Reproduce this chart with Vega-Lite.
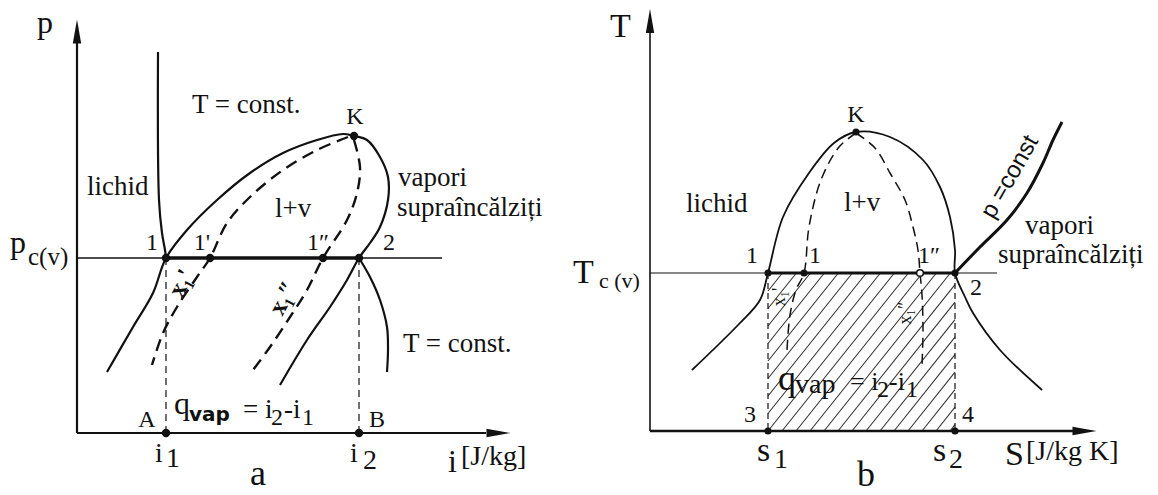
{
  "$schema": "https://vega.github.io/schema/vega-lite/v6.json",
  "padding": 0,
  "spacing": 0,
  "bounds": "flush",
  "background": "white",
  "config": {
    "view": {"stroke": null},
    "text": {"font": "Liberation Serif", "color": "#111"},
    "line": {"color": "#111"},
    "rule": {"color": "#111"},
    "point": {"color": "#111", "opacity": 1}
  },
  "resolve": {"scale": {"x": "independent", "y": "independent", "shape": "independent"}},
  "datasets": {
    "aSolid": [
      {"curve": "izoterma lichid", "ord": 1, "i": 8.1, "p": 38.1},
      {"curve": "izoterma lichid", "ord": 2, "i": 8.2, "p": 23.3},
      {"curve": "izoterma lichid", "ord": 3, "i": 8.5, "p": 20.0},
      {"curve": "izoterma lichid", "ord": 4, "i": 8.8, "p": 18.3},
      {"curve": "izoterma lichid", "ord": 5, "i": 8.9, "p": 17.5},
      {"curve": "saturatie", "ord": 1, "i": 3.0, "p": 6.1},
      {"curve": "saturatie", "ord": 2, "i": 5.6, "p": 10.6},
      {"curve": "saturatie", "ord": 3, "i": 7.6, "p": 14.0},
      {"curve": "saturatie", "ord": 4, "i": 8.9, "p": 17.5},
      {"curve": "saturatie", "ord": 5, "i": 11.0, "p": 20.3},
      {"curve": "saturatie", "ord": 6, "i": 14.0, "p": 23.3},
      {"curve": "saturatie", "ord": 7, "i": 17.3, "p": 26.0},
      {"curve": "saturatie", "ord": 8, "i": 20.6, "p": 28.0},
      {"curve": "saturatie", "ord": 9, "i": 24.0, "p": 29.3},
      {"curve": "saturatie", "ord": 10, "i": 26.6, "p": 29.9},
      {"curve": "saturatie", "ord": 11, "i": 27.7, "p": 29.7},
      {"curve": "saturatie", "ord": 12, "i": 29.0, "p": 29.3},
      {"curve": "saturatie", "ord": 13, "i": 30.3, "p": 27.6},
      {"curve": "saturatie", "ord": 14, "i": 31.1, "p": 25.6},
      {"curve": "saturatie", "ord": 15, "i": 31.1, "p": 23.3},
      {"curve": "saturatie", "ord": 16, "i": 30.3, "p": 20.6},
      {"curve": "saturatie", "ord": 17, "i": 29.3, "p": 19.0},
      {"curve": "saturatie", "ord": 18, "i": 28.2, "p": 17.5},
      {"curve": "saturatie", "ord": 19, "i": 27.0, "p": 15.3},
      {"curve": "saturatie", "ord": 20, "i": 25.3, "p": 12.6},
      {"curve": "saturatie", "ord": 21, "i": 23.0, "p": 9.3},
      {"curve": "saturatie", "ord": 22, "i": 20.3, "p": 4.8},
      {"curve": "izoterma vapori", "ord": 1, "i": 28.2, "p": 17.5},
      {"curve": "izoterma vapori", "ord": 2, "i": 29.3, "p": 15.6},
      {"curve": "izoterma vapori", "ord": 3, "i": 30.3, "p": 13.3},
      {"curve": "izoterma vapori", "ord": 4, "i": 31.0, "p": 10.6},
      {"curve": "izoterma vapori", "ord": 5, "i": 31.1, "p": 8.3},
      {"curve": "izoterma vapori", "ord": 6, "i": 31.0, "p": 6.1}
    ],
    "aDashed": [
      {"curve": "x1'", "ord": 1, "i": 27.1, "p": 29.6},
      {"curve": "x1'", "ord": 2, "i": 24.0, "p": 28.3},
      {"curve": "x1'", "ord": 3, "i": 20.6, "p": 26.3},
      {"curve": "x1'", "ord": 4, "i": 17.3, "p": 23.6},
      {"curve": "x1'", "ord": 5, "i": 15.0, "p": 21.0},
      {"curve": "x1'", "ord": 6, "i": 13.3, "p": 17.5},
      {"curve": "x1'", "ord": 7, "i": 12.0, "p": 15.6},
      {"curve": "x1'", "ord": 8, "i": 10.0, "p": 12.6},
      {"curve": "x1'", "ord": 9, "i": 8.6, "p": 10.0},
      {"curve": "x1'", "ord": 10, "i": 7.5, "p": 6.8},
      {"curve": "x1''", "ord": 1, "i": 27.7, "p": 29.3},
      {"curve": "x1''", "ord": 2, "i": 28.3, "p": 26.6},
      {"curve": "x1''", "ord": 3, "i": 28.0, "p": 24.0},
      {"curve": "x1''", "ord": 4, "i": 27.0, "p": 21.3},
      {"curve": "x1''", "ord": 5, "i": 24.6, "p": 17.5},
      {"curve": "x1''", "ord": 6, "i": 23.0, "p": 14.3},
      {"curve": "x1''", "ord": 7, "i": 21.3, "p": 11.6},
      {"curve": "x1''", "ord": 8, "i": 19.3, "p": 8.6},
      {"curve": "x1''", "ord": 9, "i": 17.6, "p": 6.3}
    ],
    "aAxes": [
      {"i": 0, "p": 0, "i2": 0, "p2": 40},
      {"i": 0, "p": 0, "i2": 40.9, "p2": 0}
    ],
    "aLevel": [{"i": 0, "p": 17.5, "i2": 36.5, "p2": 17.5}],
    "aLevelHeavy": [{"i": 8.9, "p": 17.5, "i2": 28.2, "p2": 17.5}],
    "aDrops": [
      {"i": 8.9, "p": 17.5, "i2": 8.9, "p2": 0},
      {"i": 28.2, "p": 17.5, "i2": 28.2, "p2": 0}
    ],
    "aPoints": [
      {"name": "1", "i": 8.9, "p": 17.5},
      {"name": "1'", "i": 13.3, "p": 17.5},
      {"name": "1''", "i": 24.6, "p": 17.5},
      {"name": "2", "i": 28.2, "p": 17.5},
      {"name": "K", "i": 27.7, "p": 29.7},
      {"name": "i1", "i": 8.9, "p": 0},
      {"name": "i2", "i": 28.2, "p": 0}
    ],
    "aArrows": [
      {"dir": "up", "i": 0, "p": 40.15},
      {"dir": "right", "i": 42.15, "p": 0}
    ],
    "aBig": [
      {"label": "p", "i": -4.0, "p": 40.0},
      {"label": "p", "i": -6.7, "p": 18.0},
      {"label": "i", "i": 37.1, "p": -3.9}
    ],
    "aSub": [{"label": "c(v)", "i": -4.9, "p": 16.85}],
    "aRegion": [
      {"label": "lichid", "i": 1.0, "p": 23.8},
      {"label": "T = const.", "i": 11.5, "p": 32.0},
      {"label": "l+v", "i": 19.8, "p": 21.6},
      {"label": "vapori", "i": 32.1, "p": 24.7},
      {"label": "supraîncălziți", "i": 32.0, "p": 21.7},
      {"label": "T = const.", "i": 32.6, "p": 8.1}
    ],
    "aPointLabels": [
      {"label": "1", "i": 7.5, "p": 18.3},
      {"label": "1'", "i": 12.5, "p": 18.3},
      {"label": "1″", "i": 24.1, "p": 18.3},
      {"label": "2", "i": 31.2, "p": 18.3},
      {"label": "K", "i": 27.8, "p": 30.9},
      {"label": "A", "i": 7.0, "p": 0.6},
      {"label": "B", "i": 30.0, "p": 0.6}
    ],
    "aQuality": [
      {"label": "x₁'", "i": 10.4, "p": 15.0},
      {"label": "x₁″", "i": 20.6, "p": 13.5}
    ],
    "aTick": [
      {"label": "i", "i": 7.8, "p": -2.9},
      {"label": "1", "i": 8.9, "p": -3.4},
      {"label": "i", "i": 27.3, "p": -2.9},
      {"label": "2", "i": 28.6, "p": -3.6},
      {"label": "[J/kg]", "i": 38.4, "p": -3.2}
    ],
    "aQ": [{"label": "q", "i": 9.7, "p": 1.9}],
    "aVap": [{"label": "vap", "i": 11.2, "p": 1.2}],
    "aEq": [
      {"label": "= i", "i": 16.6, "p": 1.5},
      {"label": "-i", "i": 20.7, "p": 1.5}
    ],
    "aEqSub": [
      {"label": "2", "i": 19.4, "p": 0.8},
      {"label": "1", "i": 22.5, "p": 0.8}
    ],
    "aLetter": [{"label": "a", "i": 18.1, "p": -5.2}],

    "bSolid": [
      {"curve": "saturatie", "ord": 1, "s": 4.2, "T": 6.1},
      {"curve": "saturatie", "ord": 2, "s": 8.9, "T": 10.7},
      {"curve": "saturatie", "ord": 3, "s": 11.0, "T": 13.1},
      {"curve": "saturatie", "ord": 4, "s": 11.8, "T": 15.8},
      {"curve": "saturatie", "ord": 5, "s": 13.3, "T": 21.4},
      {"curve": "saturatie", "ord": 6, "s": 15.9, "T": 25.8},
      {"curve": "saturatie", "ord": 7, "s": 18.4, "T": 28.8},
      {"curve": "saturatie", "ord": 8, "s": 20.6, "T": 29.9},
      {"curve": "saturatie", "ord": 9, "s": 24.0, "T": 29.4},
      {"curve": "saturatie", "ord": 10, "s": 27.3, "T": 27.1},
      {"curve": "saturatie", "ord": 11, "s": 29.0, "T": 24.4},
      {"curve": "saturatie", "ord": 12, "s": 30.0, "T": 21.4},
      {"curve": "saturatie", "ord": 13, "s": 30.5, "T": 18.1},
      {"curve": "saturatie", "ord": 14, "s": 30.5, "T": 15.8},
      {"curve": "saturatie", "ord": 15, "s": 31.5, "T": 13.4},
      {"curve": "saturatie", "ord": 16, "s": 32.3, "T": 11.8},
      {"curve": "saturatie", "ord": 17, "s": 35.0, "T": 8.1},
      {"curve": "saturatie", "ord": 18, "s": 39.2, "T": 4.1}
    ],
    "bIsobar": [
      {"curve": "p = const", "ord": 1, "s": 30.5, "T": 15.8},
      {"curve": "p = const", "ord": 2, "s": 33.0, "T": 18.4},
      {"curve": "p = const", "ord": 3, "s": 35.7, "T": 21.1},
      {"curve": "p = const", "ord": 4, "s": 37.7, "T": 23.8},
      {"curve": "p = const", "ord": 5, "s": 39.3, "T": 26.8},
      {"curve": "p = const", "ord": 6, "s": 40.3, "T": 29.1},
      {"curve": "p = const", "ord": 7, "s": 41.2, "T": 30.9}
    ],
    "bDashed": [
      {"curve": "x1'", "ord": 1, "s": 20.6, "T": 29.8},
      {"curve": "x1'", "ord": 2, "s": 18.9, "T": 28.4},
      {"curve": "x1'", "ord": 3, "s": 17.1, "T": 25.1},
      {"curve": "x1'", "ord": 4, "s": 15.9, "T": 20.4},
      {"curve": "x1'", "ord": 5, "s": 15.4, "T": 15.8},
      {"curve": "x1'", "ord": 6, "s": 14.6, "T": 14.1},
      {"curve": "x1'", "ord": 7, "s": 14.0, "T": 11.6},
      {"curve": "x1'", "ord": 8, "s": 13.7, "T": 8.1},
      {"curve": "x1''", "ord": 1, "s": 20.6, "T": 29.8},
      {"curve": "x1''", "ord": 2, "s": 22.5, "T": 28.3},
      {"curve": "x1''", "ord": 3, "s": 24.0, "T": 25.8},
      {"curve": "x1''", "ord": 4, "s": 25.5, "T": 23.1},
      {"curve": "x1''", "ord": 5, "s": 26.3, "T": 20.4},
      {"curve": "x1''", "ord": 6, "s": 26.8, "T": 18.1},
      {"curve": "x1''", "ord": 7, "s": 27.0, "T": 15.8},
      {"curve": "x1''", "ord": 8, "s": 27.2, "T": 13.6},
      {"curve": "x1''", "ord": 9, "s": 27.3, "T": 10.1},
      {"curve": "x1''", "ord": 10, "s": 27.2, "T": 6.6}
    ],
    "bAxisT": [{"s": 0, "T": 0, "s2": 0, "T2": 40}],
    "bAxisS": [{"s": 0, "T": 0, "s2": 42.5, "T2": 0}],
    "bLevel": [{"s": 0, "T": 15.8, "s2": 34.7, "T2": 15.8}],
    "bLevelHeavy": [{"s": 11.8, "T": 15.8, "s2": 30.5, "T2": 15.8}],
    "bDrops": [
      {"s": 11.8, "T": 15.8, "s2": 11.8, "T2": 0},
      {"s": 30.5, "T": 15.8, "s2": 30.5, "T2": 0}
    ],
    "bHatch": [
      {"s": 11.8, "T": 14.0, "s2": 13.24, "T2": 15.8},
      {"s": 11.8, "T": 12.25, "s2": 14.64, "T2": 15.8},
      {"s": 11.8, "T": 10.5, "s2": 16.04, "T2": 15.8},
      {"s": 11.8, "T": 8.75, "s2": 17.44, "T2": 15.8},
      {"s": 11.8, "T": 7.0, "s2": 18.84, "T2": 15.8},
      {"s": 11.8, "T": 5.25, "s2": 20.24, "T2": 15.8},
      {"s": 11.8, "T": 3.5, "s2": 21.64, "T2": 15.8},
      {"s": 11.8, "T": 1.75, "s2": 23.04, "T2": 15.8},
      {"s": 11.8, "T": 0, "s2": 24.44, "T2": 15.8},
      {"s": 13.2, "T": 0, "s2": 25.84, "T2": 15.8},
      {"s": 14.6, "T": 0, "s2": 27.24, "T2": 15.8},
      {"s": 16.0, "T": 0, "s2": 28.64, "T2": 15.8},
      {"s": 17.4, "T": 0, "s2": 30.04, "T2": 15.8},
      {"s": 18.8, "T": 0, "s2": 30.5, "T2": 14.63},
      {"s": 20.2, "T": 0, "s2": 30.5, "T2": 12.88},
      {"s": 21.6, "T": 0, "s2": 30.5, "T2": 11.13},
      {"s": 23.0, "T": 0, "s2": 30.5, "T2": 9.38},
      {"s": 24.4, "T": 0, "s2": 30.5, "T2": 7.63},
      {"s": 25.8, "T": 0, "s2": 30.5, "T2": 5.88},
      {"s": 27.2, "T": 0, "s2": 30.5, "T2": 4.13},
      {"s": 28.6, "T": 0, "s2": 30.5, "T2": 2.38},
      {"s": 30.0, "T": 0, "s2": 30.5, "T2": 0.63}
    ],
    "bPoints": [
      {"name": "1", "s": 11.8, "T": 15.8},
      {"name": "1'", "s": 15.4, "T": 15.8},
      {"name": "2", "s": 30.5, "T": 15.8},
      {"name": "K", "s": 20.6, "T": 29.9},
      {"name": "s1", "s": 11.8, "T": 0},
      {"name": "s2", "s": 30.5, "T": 0}
    ],
    "bOpenPoints": [{"name": "1''", "s": 27.0, "T": 15.8}],
    "bArrows": [
      {"dir": "up", "s": 0, "T": 41.0},
      {"dir": "right", "s": 43.45, "T": 0}
    ],
    "bBig": [
      {"label": "T", "s": -4.0, "T": 39.4},
      {"label": "T", "s": -7.7, "T": 14.8},
      {"label": "S", "s": 35.5, "T": -3.4},
      {"label": "s", "s": 10.7, "T": -3.0},
      {"label": "s", "s": 28.3, "T": -3.0}
    ],
    "bMed": [
      {"label": "[J/kg K]", "s": 37.6, "T": -2.9},
      {"label": "1", "s": 12.4, "T": -3.7},
      {"label": "2", "s": 29.9, "T": -3.7}
    ],
    "bSub": [{"label": "c (v)", "s": -5.1, "T": 14.3}],
    "bRegion": [
      {"label": "lichid", "s": 3.6, "T": 21.9},
      {"label": "l+v", "s": 19.4, "T": 22.0},
      {"label": "vapori", "s": 37.5, "T": 19.7},
      {"label": "supraîncălziți", "s": 34.8, "T": 16.8}
    ],
    "bPointLabels": [
      {"label": "K", "s": 20.6, "T": 30.9},
      {"label": "1", "s": 10.2, "T": 16.8},
      {"label": "1", "s": 16.5, "T": 16.8},
      {"label": "1″", "s": 27.9, "T": 16.8},
      {"label": "2", "s": 32.6, "T": 13.6},
      {"label": "3", "s": 10.0, "T": 0.9},
      {"label": "4", "s": 31.8, "T": 0.9}
    ],
    "bIsobarLabel": [{"label": "p =const", "s": 36.0, "T": 25.4}],
    "bQuality": [
      {"label": "x₁'", "s": 13.0, "T": 13.4},
      {"label": "x₁″", "s": 25.6, "T": 11.8}
    ],
    "bQ": [{"label": "q", "s": 12.8, "T": 4.1}],
    "bVap": [{"label": "vap", "s": 14.5, "T": 3.8}],
    "bEq": [
      {"label": "= i", "s": 20.0, "T": 4.1},
      {"label": "-i", "s": 23.9, "T": 4.1}
    ],
    "bEqSub": [
      {"label": "2", "s": 22.7, "T": 3.4},
      {"label": "1", "s": 25.6, "T": 3.4}
    ],
    "bLetter": [{"label": "b", "s": 21.6, "T": -5.5}]
  },
  "hconcat": [
    {
      "width": 560,
      "height": 495,
      "encoding": {
        "x": {"field": "i", "type": "quantitative", "scale": {"domain": [-7.7, 48.3], "nice": false, "zero": false}, "axis": null},
        "y": {"field": "p", "type": "quantitative", "scale": {"domain": [-6.2, 43.3], "nice": false, "zero": false}, "axis": null}
      },
      "layer": [
        {"data": {"name": "aAxes"}, "mark": {"type": "rule", "strokeWidth": 2.2}, "encoding": {"x2": {"field": "i2"}, "y2": {"field": "p2"}}},
        {"data": {"name": "aArrows"}, "mark": {"type": "point", "filled": true, "size": 576},
         "encoding": {"shape": {"field": "dir", "type": "nominal", "scale": {"domain": ["up", "right"], "range": ["M0,-1L0.35,1L-0.35,1Z", "M1,0L-1,0.35L-1,-0.35Z"]}, "legend": null}}},
        {"data": {"name": "aLevel"}, "mark": {"type": "rule", "strokeWidth": 1.6}, "encoding": {"x2": {"field": "i2"}, "y2": {"field": "p2"}}},
        {"data": {"name": "aLevelHeavy"}, "mark": {"type": "rule", "strokeWidth": 3.6}, "encoding": {"x2": {"field": "i2"}, "y2": {"field": "p2"}}},
        {"data": {"name": "aDrops"}, "mark": {"type": "rule", "strokeWidth": 1.2, "strokeDash": [7, 5]}, "encoding": {"x2": {"field": "i2"}, "y2": {"field": "p2"}}},
        {"data": {"name": "aSolid"}, "mark": {"type": "line", "interpolate": "catmull-rom", "strokeWidth": 2.2},
         "encoding": {"detail": {"field": "curve", "type": "nominal"}, "order": {"field": "ord", "type": "quantitative"}}},
        {"data": {"name": "aDashed"}, "mark": {"type": "line", "interpolate": "catmull-rom", "strokeWidth": 2.4, "strokeDash": [12, 7]},
         "encoding": {"detail": {"field": "curve", "type": "nominal"}, "order": {"field": "ord", "type": "quantitative"}}},
        {"data": {"name": "aPoints"}, "mark": {"type": "point", "shape": "circle", "filled": true, "size": 70}},
        {"data": {"name": "aBig"}, "mark": {"type": "text", "fontSize": 32, "align": "left", "baseline": "alphabetic"}, "encoding": {"text": {"field": "label"}}},
        {"data": {"name": "aSub"}, "mark": {"type": "text", "fontSize": 25, "align": "left", "baseline": "alphabetic"}, "encoding": {"text": {"field": "label"}}},
        {"data": {"name": "aRegion"}, "mark": {"type": "text", "fontSize": 27, "align": "left", "baseline": "alphabetic"}, "encoding": {"text": {"field": "label"}}},
        {"data": {"name": "aPointLabels"}, "mark": {"type": "text", "fontSize": 24, "align": "center", "baseline": "alphabetic"}, "encoding": {"text": {"field": "label"}}},
        {"data": {"name": "aQuality"}, "mark": {"type": "text", "fontSize": 25, "fontWeight": "bold", "align": "center", "baseline": "middle", "angle": 298}, "encoding": {"text": {"field": "label"}}},
        {"data": {"name": "aTick"}, "mark": {"type": "text", "fontSize": 28, "align": "left", "baseline": "alphabetic"}, "encoding": {"text": {"field": "label"}}},
        {"data": {"name": "aQ"}, "mark": {"type": "text", "fontSize": 32, "align": "left", "baseline": "alphabetic"}, "encoding": {"text": {"field": "label"}}},
        {"data": {"name": "aVap"}, "mark": {"type": "text", "font": "DejaVu Sans", "fontWeight": "bold", "fontSize": 20, "align": "left", "baseline": "alphabetic"}, "encoding": {"text": {"field": "label"}}},
        {"data": {"name": "aEq"}, "mark": {"type": "text", "fontSize": 27, "align": "left", "baseline": "alphabetic"}, "encoding": {"text": {"field": "label"}}},
        {"data": {"name": "aEqSub"}, "mark": {"type": "text", "fontSize": 24, "align": "left", "baseline": "alphabetic"}, "encoding": {"text": {"field": "label"}}},
        {"data": {"name": "aLetter"}, "mark": {"type": "text", "fontSize": 36, "align": "center", "baseline": "alphabetic"}, "encoding": {"text": {"field": "label"}}}
      ]
    },
    {
      "width": 598,
      "height": 495,
      "encoding": {
        "x": {"field": "s", "type": "quantitative", "scale": {"domain": [-9, 50.8], "nice": false, "zero": false}, "axis": null},
        "y": {"field": "T", "type": "quantitative", "scale": {"domain": [-6.4, 43.1], "nice": false, "zero": false}, "axis": null}
      },
      "layer": [
        {"data": {"name": "bHatch"}, "mark": {"type": "rule", "strokeWidth": 1.1, "color": "#333"}, "encoding": {"x2": {"field": "s2"}, "y2": {"field": "T2"}}},
        {"data": {"name": "bAxisT"}, "mark": {"type": "rule", "strokeWidth": 1.6}, "encoding": {"x2": {"field": "s2"}, "y2": {"field": "T2"}}},
        {"data": {"name": "bAxisS"}, "mark": {"type": "rule", "strokeWidth": 2.5}, "encoding": {"x2": {"field": "s2"}, "y2": {"field": "T2"}}},
        {"data": {"name": "bArrows"}, "mark": {"type": "point", "filled": true, "size": 576},
         "encoding": {"shape": {"field": "dir", "type": "nominal", "scale": {"domain": ["up", "right"], "range": ["M0,-1L0.35,1L-0.35,1Z", "M1,0L-1,0.35L-1,-0.35Z"]}, "legend": null}}},
        {"data": {"name": "bLevel"}, "mark": {"type": "rule", "strokeWidth": 1.2}, "encoding": {"x2": {"field": "s2"}, "y2": {"field": "T2"}}},
        {"data": {"name": "bLevelHeavy"}, "mark": {"type": "rule", "strokeWidth": 3}, "encoding": {"x2": {"field": "s2"}, "y2": {"field": "T2"}}},
        {"data": {"name": "bDrops"}, "mark": {"type": "rule", "strokeWidth": 1.2, "strokeDash": [6, 4]}, "encoding": {"x2": {"field": "s2"}, "y2": {"field": "T2"}}},
        {"data": {"name": "bSolid"}, "mark": {"type": "line", "interpolate": "catmull-rom", "strokeWidth": 1.8},
         "encoding": {"detail": {"field": "curve", "type": "nominal"}, "order": {"field": "ord", "type": "quantitative"}}},
        {"data": {"name": "bIsobar"}, "mark": {"type": "line", "interpolate": "catmull-rom", "strokeWidth": 3},
         "encoding": {"detail": {"field": "curve", "type": "nominal"}, "order": {"field": "ord", "type": "quantitative"}}},
        {"data": {"name": "bDashed"}, "mark": {"type": "line", "interpolate": "catmull-rom", "strokeWidth": 1.5, "strokeDash": [10, 6]},
         "encoding": {"detail": {"field": "curve", "type": "nominal"}, "order": {"field": "ord", "type": "quantitative"}}},
        {"data": {"name": "bPoints"}, "mark": {"type": "point", "shape": "circle", "filled": true, "size": 50}},
        {"data": {"name": "bOpenPoints"}, "mark": {"type": "point", "shape": "circle", "filled": false, "fill": "white", "strokeWidth": 1.5, "size": 45}},
        {"data": {"name": "bBig"}, "mark": {"type": "text", "fontSize": 34, "align": "left", "baseline": "alphabetic"}, "encoding": {"text": {"field": "label"}}},
        {"data": {"name": "bMed"}, "mark": {"type": "text", "fontSize": 28, "align": "left", "baseline": "alphabetic"}, "encoding": {"text": {"field": "label"}}},
        {"data": {"name": "bSub"}, "mark": {"type": "text", "fontSize": 22, "align": "left", "baseline": "alphabetic"}, "encoding": {"text": {"field": "label"}}},
        {"data": {"name": "bRegion"}, "mark": {"type": "text", "fontSize": 27, "align": "left", "baseline": "alphabetic"}, "encoding": {"text": {"field": "label"}}},
        {"data": {"name": "bPointLabels"}, "mark": {"type": "text", "fontSize": 24, "align": "center", "baseline": "alphabetic"}, "encoding": {"text": {"field": "label"}}},
        {"data": {"name": "bIsobarLabel"}, "mark": {"type": "text", "font": "Liberation Sans", "fontSize": 24, "align": "center", "baseline": "middle", "angle": 300}, "encoding": {"text": {"field": "label"}}},
        {"data": {"name": "bQuality"}, "mark": {"type": "text", "fontSize": 18, "align": "center", "baseline": "middle", "angle": 270}, "encoding": {"text": {"field": "label"}}},
        {"data": {"name": "bQ"}, "mark": {"type": "text", "fontSize": 36, "align": "left", "baseline": "alphabetic"}, "encoding": {"text": {"field": "label"}}},
        {"data": {"name": "bVap"}, "mark": {"type": "text", "fontSize": 28, "align": "left", "baseline": "alphabetic"}, "encoding": {"text": {"field": "label"}}},
        {"data": {"name": "bEq"}, "mark": {"type": "text", "fontSize": 26, "align": "left", "baseline": "alphabetic"}, "encoding": {"text": {"field": "label"}}},
        {"data": {"name": "bEqSub"}, "mark": {"type": "text", "fontSize": 24, "align": "left", "baseline": "alphabetic"}, "encoding": {"text": {"field": "label"}}},
        {"data": {"name": "bLetter"}, "mark": {"type": "text", "fontSize": 36, "align": "center", "baseline": "alphabetic"}, "encoding": {"text": {"field": "label"}}}
      ]
    }
  ]
}
